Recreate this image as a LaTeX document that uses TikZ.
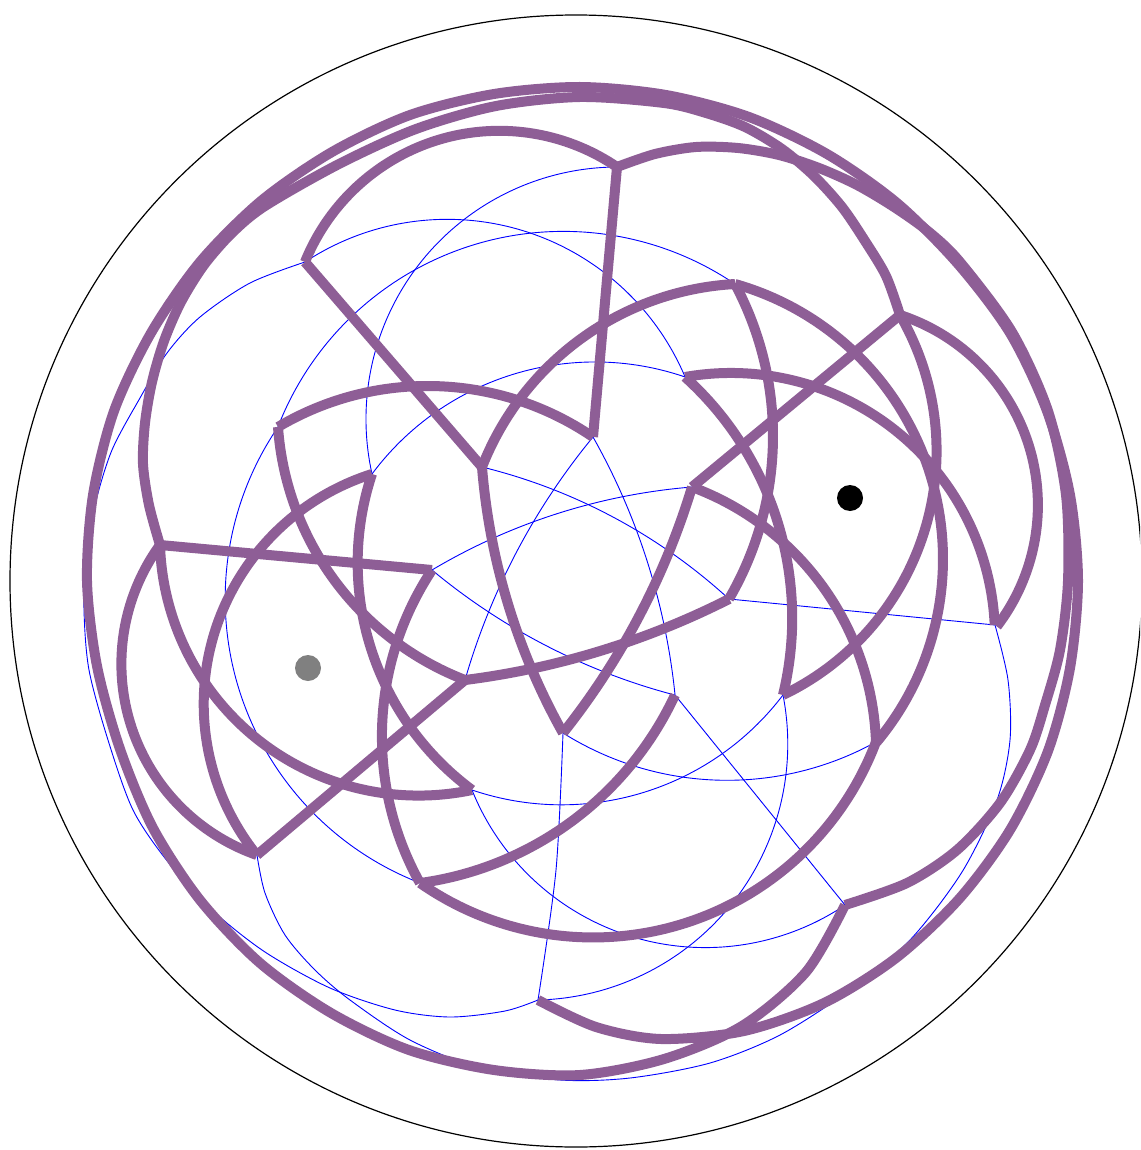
\documentclass[tikz,border=0pt]{standalone}
\definecolor{pur}{RGB}{142,94,150}
\tikzset{
  pu/.style={draw=pur, line width=10pt, line join=round},
  bl/.style={draw=blue, line width=0.9pt},
  rim/.style={draw=black, line width=1.2pt}
}
\begin{document}
\begin{tikzpicture}[x=1pt,y=-1pt]
\useasboundingbox (0,0) rectangle (1140,1150);
\clip (0,0) rectangle (1140,1150);
% vertices
\coordinate (A) at (305,262);
\coordinate (B) at (617,167);
\coordinate (C) at (735,284);
\coordinate (D) at (900,315);
\coordinate (E) at (685,377);
\coordinate (F) at (593,437);
\coordinate (G) at (482,467);
\coordinate (H) at (372,474);
\coordinate (I) at (278,427);
\coordinate (J) at (160,545);
\coordinate (K) at (432,570);
\coordinate (L) at (692,487);
\coordinate (M) at (729,599);
\coordinate (N) at (995,625);
\coordinate (O) at (783,695);
\coordinate (P) at (675,695);
\coordinate (Q) at (563,733);
\coordinate (R) at (465,680);
\coordinate (S) at (472,790);
\coordinate (T) at (420,883);
\coordinate (U) at (257,855);
\coordinate (V) at (876,742);
\coordinate (W) at (845,905);
\coordinate (X) at (538,1000);
% outer rim
\draw[rim] (576,581) circle[radius=566];
% blue network
\draw[bl] (A) arc[start angle=-123.41, end angle=-22.93, radius=258.3];
\draw[bl] (B) arc[start angle=-90.24, end angle=-192.58, radius=252.1];
\draw[bl] (C) arc[start angle=-55.9, end angle=-158.84, radius=306.1];
\draw[bl] plot[smooth] coordinates {(A) (250,283) (200,317) (167,353) (140,398) (112,450) (95,505) (86,560) (84,610) (89,670) (108,740) (133,810) (168,862) (212,910) (265,952) (330,988) (395,1010) (450,1017) (505,1011) (X)};
\draw[bl] (I) arc[start angle=-145.77, end angle=-248.82, radius=305];
\draw[bl] (S) arc[start angle=158.09, end angle=56.2, radius=251.4];
\draw[bl] plot[smooth] coordinates {(Q) (556,870) (X)};
\draw[bl] (O) arc[start angle=37.25, end angle=108.77, radius=278.2];
\draw[bl] (P) -- (W);
\draw[bl] (O) arc[start angle=-11.06, end angle=88.61, radius=256];
\draw[bl] (M) -- (N);
\draw[bl] plot[smooth] coordinates {(N) (1008,680) (1010,740) (997,800) (962,872) (910,940) (850,990) (780,1035) (710,1063) (630,1078) (560,1080) (480,1068) (410,1040) (350,1000) (315,970) (285,935) (265,893) (U)};
\draw[bl] (L) arc[start angle=-94.65, end angle=-120.76, radius=604.2];
\draw[bl] (K) arc[start angle=129.8, end angle=104.67, radius=628.4];
\draw[bl] (G) arc[start angle=-76.24, end angle=-47.51, radius=564.4];
\draw[bl] (F) arc[start angle=-140.53, end angle=-163.92, radius=677.4];
\draw[bl] (F) arc[start angle=-29.44, end angle=-5.83, radius=661.7];
\draw[bl] (H) arc[start angle=-143.34, end angle=-71.1, radius=278];
\draw[bl] (Q) arc[start angle=122.16, end angle=61.13, radius=308.3];
% purple outer curves
\draw[pu] plot[smooth] coordinates {(X) (596,1027) (661,1039) (744,1031) (824,1003) (896,958) (959,899) (1010,830) (1048,751) (1070,668) (1078,581) (1070,495) (1047,411) (1010,333) (958,264) (897,203) (827,154) (749,117) (666,95) (580,87) (494,94) (410,115) (332,152) (261,201) (200,262) (151,333) (114,411) (93,495) (87,581) (97,666) (120,749) (153,828) (200,900) (260,963) (331,1013) (409,1050) (494,1070) (580,1075) (664,1059) (742,1026) (806,972) (W)};
\draw[pu] plot[smooth] coordinates {(B) (655,154) (696,147) (738,148) (779,155) (819,168) (857,185) (894,207) (929,232) (960,262) (1012,332) (1048,411) (1066,495) (1068,581) (1060,650) (1045,705) (1030,750) (1000,803) (957,850) (907,883) (W)};
\draw[pu] plot[smooth] coordinates {(J) (149,505) (143,464) (145,423) (152,382) (164,341) (181,302) (204,265) (232,233) (265,206) (339,164) (416,129) (496,106) (580,97) (664,103) (706,113) (745,127) (782,149) (814,176) (842,207) (865,241) (886,276) (D)};
% purple straight edges
\draw[pu] (A) -- (G);
\draw[pu] (B) -- (F);
\draw[pu] (D) -- (L);
\draw[pu] (J) -- (K);
\draw[pu] (R) -- (U);
% purple arcs
\draw[pu] (A) arc[start angle=-158.05, end angle=-55.8, radius=209.5];
\draw[pu] (G) arc[start angle=-158.65, end angle=-93.1, radius=288.4];
\draw[pu] (G) arc[start angle=175.41, end angle=150.72, radius=650.3];
\draw[pu] (C) arc[start angle=-28.06, end angle=30.26, radius=323.3];
\draw[pu] (C) arc[start angle=-74.2, end angle=39.9, radius=285.8];
\draw[pu] (E) arc[start angle=-47.92, end angle=13.67, radius=325];
\draw[pu] (E) arc[start angle=-100.03, end angle=-2.6, radius=264];
\draw[pu] (D) arc[start angle=-71.93, end angle=37.4, radius=199.9];
\draw[pu] (L) arc[start angle=16.86, end angle=38.49, radius=740.3];
\draw[pu] (L) arc[start angle=-69.65, end angle=-1.97, radius=282.3];
\draw[pu] (I) arc[start angle=-120.65, end angle=-55.7, radius=293.5];
\draw[pu] (I) arc[start angle=175.95, end angle=111.12, radius=293.4];
\draw[pu] (K) arc[start angle=-146.5, end angle=-209.1, radius=301.5];
\draw[pu] (J) arc[start angle=178.18, end angle=78.11, radius=258.8];
\draw[pu] (J) arc[start angle=-144.03, end angle=-250.67, radius=202.5];
\draw[pu] (H) arc[start angle=-107.61, end angle=-218.77, radius=241.3];
\draw[pu] (H) arc[start angle=-161.67, end angle=-233.46, radius=282.6];
\draw[pu] (R) arc[start angle=82.78, end angle=63.1, radius=808.7];
\draw[pu] (P) arc[start angle=24.99, end angle=82.2, radius=330.9];
\draw[pu] (T) arc[start angle=124.92, end angle=20.7, radius=302.4];
\draw[pu] (D) arc[start angle=-30.12, end angle=64.35, radius=270.8];
% dots
\fill[gray] (308,668) circle[radius=13];
\fill[black] (850,498) circle[radius=13];
\end{tikzpicture}
\end{document}
